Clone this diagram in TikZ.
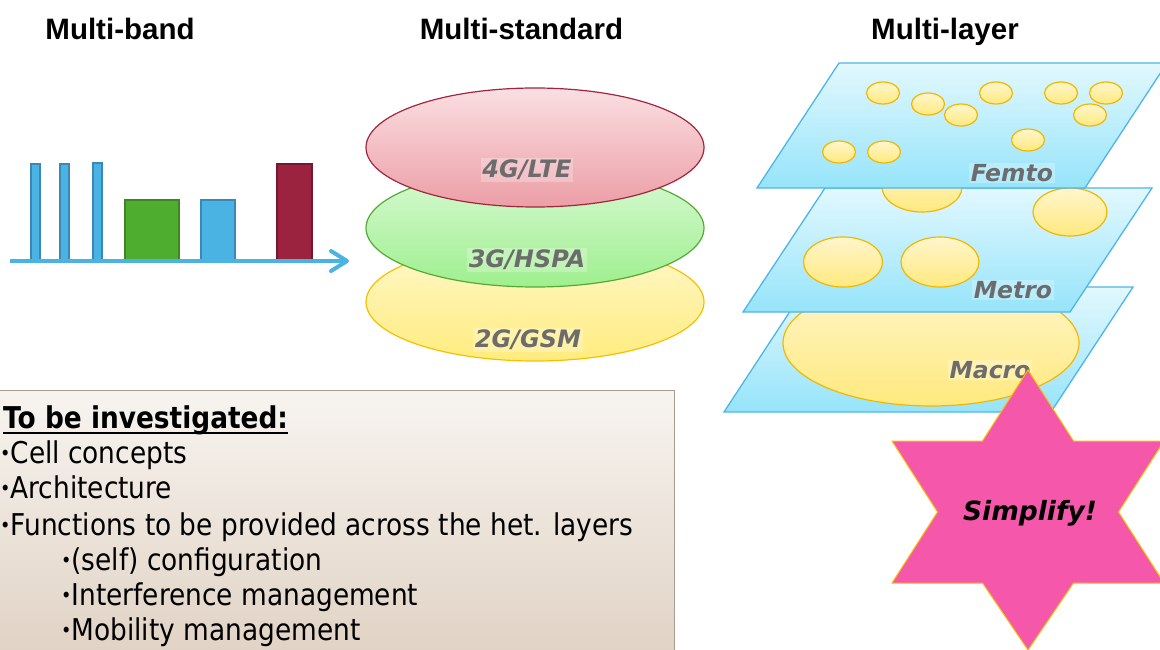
\documentclass[tikz,border=0pt]{standalone}
\usepackage{fontspec}
\setmainfont{Liberation Sans}
\newfontfamily\boxfont[FakeStretch=0.88]{DejaVu Sans}
\newfontfamily\labfont{DejaVu Sans}
\usetikzlibrary{calc}

% band colours
\definecolor{bandblue}{HTML}{4BB3E4}
\definecolor{bandblueline}{HTML}{3A88B5}
\definecolor{bandgreen}{HTML}{4EAC2E}
\definecolor{bandgreenline}{HTML}{3E8525}
\definecolor{bandred}{HTML}{9B2340}
\definecolor{bandredline}{HTML}{731830}
% standard ellipses
\definecolor{lteTop}{HTML}{FADFE2}
\definecolor{lteBot}{HTML}{EC9EA6}
\definecolor{lteLine}{HTML}{A0263E}
\definecolor{hspaTop}{HTML}{D8F9D4}
\definecolor{hspaBot}{HTML}{9FEF8E}
\definecolor{hspaLine}{HTML}{55AA35}
\definecolor{gsmTop}{HTML}{FFF8CC}
\definecolor{gsmBot}{HTML}{FFEC7E}
\definecolor{gsmLine}{HTML}{F5C000}
% layers
\definecolor{planeTop}{HTML}{E2F8FE}
\definecolor{planeBot}{HTML}{96E4FA}
\definecolor{planeLine}{HTML}{4DB6E8}
\definecolor{cellTop}{HTML}{FFF6CC}
\definecolor{cellBot}{HTML}{FFE97E}
\definecolor{cellLine}{HTML}{F2B800}
\definecolor{labgrey}{HTML}{6C6C6C}
% star and note box
\definecolor{starPink}{HTML}{F558AA}
\definecolor{starLine}{HTML}{F5C000}
\definecolor{boxTop}{HTML}{F7F4F0}
\definecolor{boxBot}{HTML}{E1D3C5}
\definecolor{boxLine}{HTML}{A89C90}

\newcommand\bul{\raisebox{2.5pt}{\fontsize{20}{20}\selectfont •}}

\tikzset{
  heading/.style={font=\fontsize{29.5}{30}\selectfont\bfseries, anchor=base},
  bar/.style={line width=1.6pt},
  stdoval/.style={line width=1.2pt},
  stdlabel/.style={font=\labfont\fontsize{24}{24}\selectfont\bfseries\itshape,
    text=labgrey, fill=white, fill opacity=0.25, text opacity=1, inner sep=1.5pt},
  plane/.style={draw=planeLine, line width=1.3pt, top color=planeTop, bottom color=planeBot},
  cell/.style={draw=cellLine, line width=1.2pt, top color=cellTop, bottom color=cellBot},
  laylabel/.style={font=\labfont\fontsize{23.5}{24}\selectfont\bfseries\itshape,
    text=labgrey, fill=white, fill opacity=0.25, text opacity=1, inner sep=1.5pt},
  boxline/.style={font=\boxfont\fontsize{30}{30}\selectfont, anchor=base west, inner sep=0pt},
}

\begin{document}
\begin{tikzpicture}[x=1pt,y=-1pt]
\useasboundingbox (0,0) rectangle (1160,650);

% ---------- headings ----------
\node[heading] (hband) at (120,40) {Multi-band};
\node[heading] (hstd) at (521.5,40) {Multi-standard};
\node[heading] (hlayer) at (945,40) {Multi-layer};

% ---------- multi-band spectrum ----------
\draw[bar, draw=bandblueline, fill=bandblue] (31,164) rectangle (40,261);
\draw[bar, draw=bandblueline, fill=bandblue] (60,164) rectangle (69,261);
\draw[bar, draw=bandblueline, fill=bandblue] (93,163) rectangle (102,261);
\draw[bar, draw=bandgreenline, fill=bandgreen] (125,200) rectangle (179,261);
\draw[bar, draw=bandblueline, fill=bandblue] (201,200) rectangle (235,261);
\draw[bar, draw=bandredline, fill=bandred] (277,164) rectangle (312,261);
\coordinate (axL) at (10,261);
\coordinate (axR) at (345,261);
\coordinate (tipU) at (331,251);
\coordinate (tipD) at (331,271);
\coordinate (tip) at (347,261);
\draw[bandblue, line width=4.5pt] (axL) -- (axR);
\draw[bandblue, line width=4pt, line cap=round, line join=round] (tipU) -- (tip) -- (tipD);

% ---------- multi-standard ----------
\draw[stdoval, draw=gsmLine, top color=gsmTop, bottom color=gsmBot]
  (535,302) ellipse [x radius=169, y radius=59];
\draw[stdoval, draw=hspaLine, top color=hspaTop, bottom color=hspaBot]
  (535,228) ellipse [x radius=169, y radius=59];
\draw[stdoval, draw=lteLine, top color=lteTop, bottom color=lteBot]
  (535,147.5) ellipse [x radius=169, y radius=59.5];
\node[stdlabel] (lte) at (527,170) {4G/LTE};
\node[stdlabel] (hspa) at (527,260) {3G/HSPA};
\node[stdlabel] (gsm) at (528,340) {2G/GSM};

% ---------- multi-layer ----------
% macro layer
\draw[plane] (806,287) -- (1133,287) -- (1051,412) -- (724,412) -- cycle;
\draw[cell] (931,343) ellipse [x radius=148, y radius=63];
\node[laylabel] (macro) at (990,370) {Macro};
% metro layer
\draw[plane] (825,188) -- (1152,188) -- (1070,312) -- (743,312) -- cycle;
\draw[cell] (922,187) ellipse [x radius=40, y radius=25];
\draw[cell] (1070,212) ellipse [x radius=37, y radius=24];
\draw[cell] (843,262) ellipse [x radius=39.5, y radius=25];
\draw[cell] (940,262) ellipse [x radius=39, y radius=25];
\node[laylabel] (metro) at (1013,290) {Metro};
% femto layer
\draw[plane] (839,63) -- (1167,63) -- (1085,188) -- (757,188) -- cycle;
\foreach \cx/\cy in {883/93, 928/104, 961/115, 996/93, 1061/93, 1106/93,
                     1090/115, 1028/140, 839/152, 884/152}
  \draw[cell] (\cx,\cy) ellipse [x radius=16.5, y radius=11];
\node[laylabel] (femto) at (1012,173) {Femto};

% ---------- star ----------
\draw[fill=starPink, draw=starLine, line width=1pt]
  (1028,370) -- (1073.5,441) -- (1164,441) -- (1118.5,512) -- (1164,583)
  -- (1073.5,583) -- (1028,650) -- (982.5,583) -- (892,583) -- (937.5,512)
  -- (892,441) -- (982.5,441) -- cycle;
\node[font=\labfont\fontsize{26.5}{27}\selectfont\bfseries\itshape] (simp) at (1030,513) {Simplify!};

% ---------- note box ----------
\draw[draw=boxLine, line width=1pt, top color=boxTop, bottom color=boxBot]
  (-2,390) rectangle (674,652);
\node[boxline, font=\boxfont\fontsize{30}{30}\selectfont\bfseries] (tbi) at (3,428) {To be investigated:};
\draw[line width=2pt] ([yshift=-4.5pt]tbi.base west) -- ([yshift=-4.5pt]tbi.base east);
\node[boxline] (l1) at (0,463) {\bul Cell concepts};
\node[boxline] (l2) at (0,498) {\bul Architecture};
\node[boxline] (l3) at (0,535) {\bul Functions to be provided across the het. layers};
\node[boxline] (l4) at (61,570) {\bul(self) configuration};
\node[boxline] (l5) at (61,605) {\bul Interference management};
\node[boxline] (l6) at (61,640) {\bul Mobility management};
\end{tikzpicture}
\end{document}
